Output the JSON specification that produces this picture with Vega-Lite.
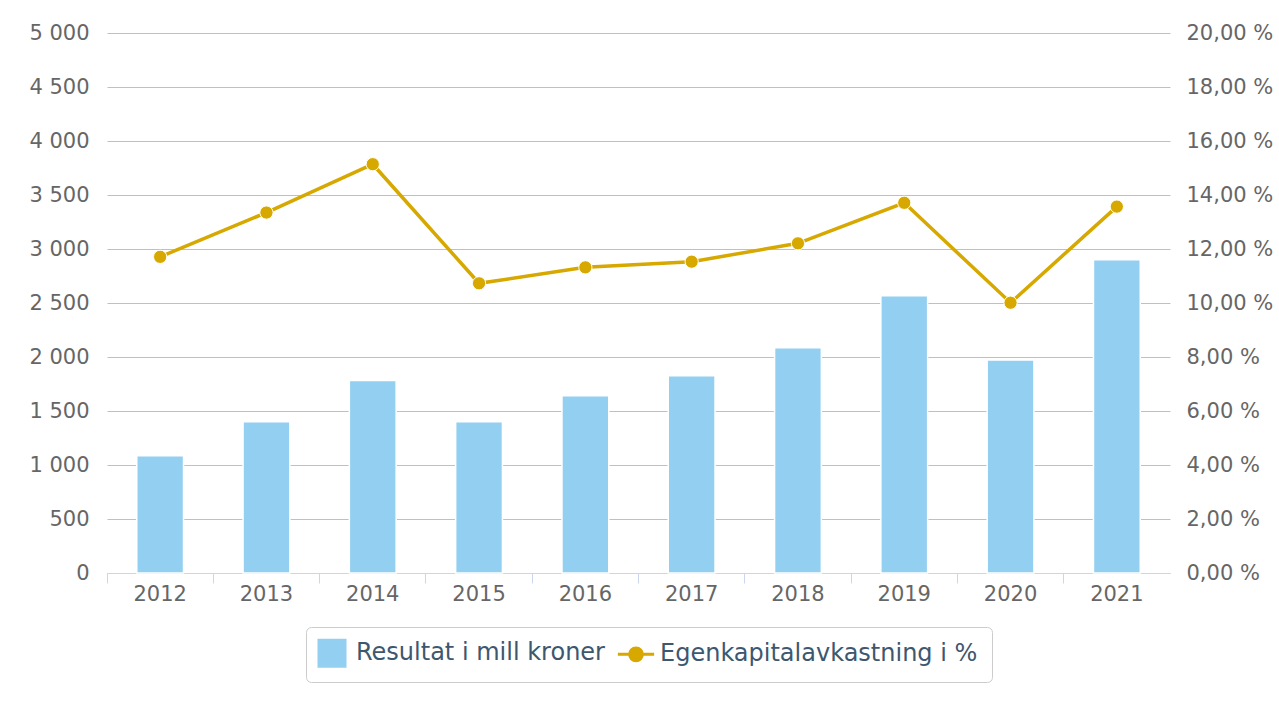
{
  "$schema": "https://vega.github.io/schema/vega-lite/v6.json",
  "width": 1063,
  "height": 540,
  "autosize": {"type": "none"},
  "padding": {"left": 107, "top": 33, "right": 109, "bottom": 133},
  "background": "white",
  "config": {"view": {"stroke": null}, "font": "DejaVu Sans"},
  "data": {
    "values": [
      {"year": "2012", "resultat": 1085, "ek": 11.71},
      {"year": "2013", "resultat": 1400, "ek": 13.35},
      {"year": "2014", "resultat": 1782, "ek": 15.14},
      {"year": "2015", "resultat": 1400, "ek": 10.73},
      {"year": "2016", "resultat": 1642, "ek": 11.32},
      {"year": "2017", "resultat": 1827, "ek": 11.53},
      {"year": "2018", "resultat": 2086, "ek": 12.21},
      {"year": "2019", "resultat": 2566, "ek": 13.71},
      {"year": "2020", "resultat": 1972, "ek": 10.01},
      {"year": "2021", "resultat": 2901, "ek": 13.57}
    ]
  },
  "layer": [
    {
      "mark": {"type": "bar", "width": {"band": 0.44}, "stroke": "white", "strokeWidth": 1.5},
      "encoding": {
        "x": {
          "field": "year", "type": "ordinal",
          "scale": {"paddingInner": 0, "paddingOuter": 0},
          "axis": {
            "orient": "bottom", "title": null, "labelAngle": 0, "ticks": false, "tickSize": 0,
            "domainColor": "#ccd6eb", "domainWidth": 1, "labelPadding": 10,
            "labelFontSize": 21, "labelColor": "#666666", "labelFont": "DejaVu Sans", "grid": false
          }
        },
        "y": {
          "field": "resultat", "type": "quantitative",
          "scale": {"domain": [0, 5000], "nice": false},
          "axis": {
            "orient": "left", "title": null,
            "values": [0, 500, 1000, 1500, 2000, 2500, 3000, 3500, 4000, 4500, 5000],
            "labelExpr": "replace(format(datum.value, ','), ',', ' ')",
            "domain": false, "ticks": false, "labelPadding": 18,
            "labelFontSize": 21, "labelColor": "#666666", "labelFont": "DejaVu Sans",
            "grid": true, "gridColor": "#c0c0c0", "gridWidth": 1
          }
        },
        "color": {
          "datum": "Resultat i mill kroner",
          "type": "nominal",
          "scale": {"domain": ["Resultat i mill kroner", "Egenkapitalavkastning i %"], "range": ["#92cff0", "#d6a800"]},
          "legend": {
            "title": null, "orient": "none", "legendX": 199, "legendY": 594,
            "direction": "horizontal", "padding": 14, "strokeColor": "#cccccc",
            "cornerRadius": 5, "fillColor": "white",
            "labelFont": "DejaVu Sans", "labelFontSize": 24, "labelColor": "#3e576f",
            "labelLimit": 500, "symbolSize": 841, "labelOffset": 12, "columnPadding": 6,
            "symbolType": "square",
            "encode": {
              "symbols": {
                "update": {
                  "shape": {"signal": "datum.value === 'Resultat i mill kroner' ? 'square' : 'M-1.25,0H-0.46M0.46,0H1.25M0.44,0A0.44,0.44,0,1,1,-0.44,0A0.44,0.44,0,1,1,0.44,0Z'"},
                  "fill": {"signal": "datum.value === 'Resultat i mill kroner' ? '#92cff0' : '#d6a800'"},
                  "stroke": {"signal": "datum.value === 'Resultat i mill kroner' ? '#92cff0' : '#d6a800'"},
                  "strokeWidth": {"signal": "datum.value === 'Resultat i mill kroner' ? 0 : 3"},
                  "opacity": {"value": 1},
                  "fillOpacity": {"value": 1},
                  "strokeOpacity": {"value": 1}
                }
              }
            }
          }
        }
      }
    },
    {
      "mark": {
        "type": "line", "strokeWidth": 3.5,
        "point": {"filled": true, "size": 175, "stroke": "white", "strokeWidth": 1}
      },
      "encoding": {
        "x": {
          "field": "year", "type": "ordinal",
          "axis": {
            "orient": "bottom", "title": null, "labels": false, "domain": false,
            "ticks": true, "tickSize": 10, "tickColor": "#ccd6eb", "bandPosition": 0, "grid": false
          }
        },
        "y": {
          "field": "ek", "type": "quantitative",
          "scale": {"domain": [0, 20], "nice": false},
          "axis": {
            "orient": "right", "title": null,
            "values": [0, 2, 4, 6, 8, 10, 12, 14, 16, 18, 20],
            "labelExpr": "replace(format(datum.value, '.2f'), '.', ',') + ' %'",
            "grid": false, "domain": false, "ticks": false, "labelPadding": 16,
            "labelFontSize": 21, "labelColor": "#666666", "labelFont": "DejaVu Sans"
          }
        },
        "color": {
          "datum": "Egenkapitalavkastning i %",
          "type": "nominal",
          "legend": {
            "title": null, "orient": "none", "legendX": 199, "legendY": 594,
            "direction": "horizontal", "padding": 14, "strokeColor": "#cccccc",
            "cornerRadius": 5, "fillColor": "white",
            "labelFont": "DejaVu Sans", "labelFontSize": 24, "labelColor": "#3e576f",
            "labelLimit": 500, "symbolSize": 841, "labelOffset": 12, "columnPadding": 6,
            "symbolType": "square",
            "encode": {
              "symbols": {
                "update": {
                  "shape": {"signal": "datum.value === 'Resultat i mill kroner' ? 'square' : 'M-1.25,0H-0.46M0.46,0H1.25M0.44,0A0.44,0.44,0,1,1,-0.44,0A0.44,0.44,0,1,1,0.44,0Z'"},
                  "fill": {"signal": "datum.value === 'Resultat i mill kroner' ? '#92cff0' : '#d6a800'"},
                  "stroke": {"signal": "datum.value === 'Resultat i mill kroner' ? '#92cff0' : '#d6a800'"},
                  "strokeWidth": {"signal": "datum.value === 'Resultat i mill kroner' ? 0 : 3"},
                  "opacity": {"value": 1},
                  "fillOpacity": {"value": 1},
                  "strokeOpacity": {"value": 1}
                }
              }
            }
          }
        }
      }
    }
  ],
  "resolve": {"scale": {"y": "independent"}, "axis": {"x": "independent", "y": "independent"}}
}
